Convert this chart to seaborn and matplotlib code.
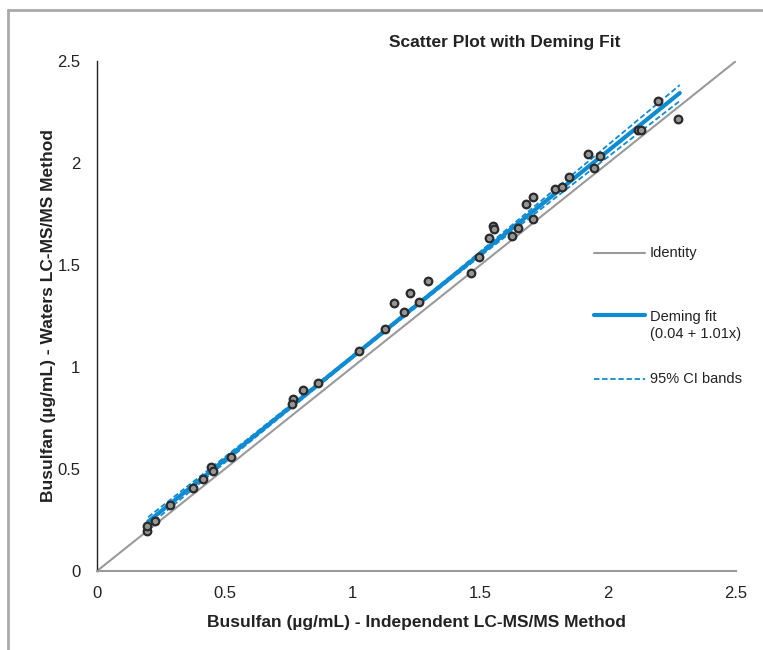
import numpy as np
import pandas as pd
import matplotlib
matplotlib.use("Agg")
import matplotlib.pyplot as plt
from matplotlib.lines import Line2D
import seaborn as sns

# ---- data ----
x_indep = [0.196, 0.196, 0.227, 0.286, 0.376, 0.415, 0.446, 0.454, 0.524,
           0.767, 0.763, 0.806, 0.865, 1.025, 1.127, 1.162, 1.201, 1.225,
           1.260, 1.295, 1.463, 1.495, 1.534, 1.549, 1.553, 1.624, 1.647,
           1.678, 1.706, 1.706, 1.792, 1.819, 1.847, 1.921, 1.944, 1.968,
           2.117, 2.128, 2.195, 2.273]
y_waters = [0.196, 0.221, 0.245, 0.324, 0.407, 0.451, 0.510, 0.490, 0.559,
            0.843, 0.819, 0.887, 0.922, 1.078, 1.186, 1.314, 1.270, 1.363,
            1.319, 1.422, 1.461, 1.539, 1.632, 1.691, 1.676, 1.642, 1.681,
            1.799, 1.833, 1.725, 1.873, 1.882, 1.931, 2.044, 1.975, 2.034,
            2.162, 2.162, 2.304, 2.216]

identity_x = [0.0, 2.5]
identity_y = [0.0, 2.5]

fit_x = [0.2, 2.28]
fit_y = [0.242, 2.343]

ci_x = [0.2, 0.6, 1.0, 1.4, 1.8, 2.28]
ci_upper = [0.264, 0.657, 1.056, 1.462, 1.880, 2.382]
ci_lower = [0.220, 0.635, 1.044, 1.446, 1.836, 2.304]

ticks = [0, 0.5, 1, 1.5, 2, 2.5]
tick_labels = ["0", "0.5", "1", "1.5", "2", "2.5"]

# ---- style ----
sns.set_style("white")
plt.rcParams['font.family'] = ['Liberation Sans Narrow', 'Liberation Sans', 'DejaVu Sans']

BLUE = "#0f8bd2"
GREY = "#9a9a9a"

fig = plt.figure(figsize=(7.63, 6.50), dpi=100)
ax = fig.add_axes([97/763, 1-571/650, (736-97)/763, (571-61)/650])

sns.lineplot(x=identity_x, y=identity_y, ax=ax, color=GREY, lw=1.5, zorder=1)
sns.lineplot(x=ci_x, y=ci_upper, ax=ax, color=BLUE, lw=1.3, ls=(0, (3, 1.5)), zorder=2)
sns.lineplot(x=ci_x, y=ci_lower, ax=ax, color=BLUE, lw=1.3, ls=(0, (3, 1.5)), zorder=2)
sns.lineplot(x=fit_x, y=fit_y, ax=ax, color=BLUE, lw=3, zorder=3)

df = pd.DataFrame({"x": x_indep, "y": y_waters})
sns.scatterplot(data=df, x="x", y="y", ax=ax, marker="o", s=30,
                color="#959595", edgecolor="#2a2a2a", linewidth=1.6, zorder=4)

ax.set_xlim(0, 2.5)
ax.set_ylim(0, 2.5)
ax.set_xticks(ticks)
ax.set_xticklabels(tick_labels)
ax.set_yticks(ticks)
ax.set_yticklabels(tick_labels)
ax.tick_params(axis='both', labelsize=12, colors="#222222", direction='out', length=4, width=0.8)
ax.tick_params(axis='x', direction='inout', length=6, pad=8, color=GREY)
ax.tick_params(axis='y', pad=8, color="#222222")
for s in ["top", "right"]:
    ax.spines[s].set_visible(False)
ax.spines["left"].set_color("#222222")
ax.spines["left"].set_linewidth(1.0)
ax.spines["bottom"].set_color(GREY)
ax.spines["bottom"].set_linewidth(1.5)

ax.set_xlabel("Busulfan (µg/mL) - Independent LC-MS/MS Method", fontsize=12.5,
              fontweight='bold', color="#222222", labelpad=10)
ax.set_ylabel("Busulfan (µg/mL) - Waters LC-MS/MS Method", fontsize=12.5,
              fontweight='bold', color="#222222", labelpad=1)

fig.text(505/763, 1-42/650, "Scatter Plot with Deming Fit", ha='center', va='center',
         fontsize=12.5, fontweight='bold', color="#222222")

# ---- legend (manual) ----
def fx(px):
    return px/763
def fy(py):
    return 1-py/650

leg_font = ['Liberation Sans', 'DejaVu Sans']
fig.add_artist(Line2D([fx(594), fx(645)], [fy(253), fy(253)], color=GREY, lw=1.5))
fig.text(fx(650), fy(253), "Identity", ha='left', va='center', fontsize=10.5,
         family=leg_font, color="#222222")
fig.add_artist(Line2D([fx(594), fx(645)], [fy(315), fy(315)], color=BLUE, lw=3))
fig.text(fx(650), fy(317), "Deming fit", ha='left', va='center', fontsize=10.5,
         family=leg_font, color="#222222")
fig.text(fx(650), fy(334), "(0.04 + 1.01x)", ha='left', va='center', fontsize=10.5,
         family=leg_font, color="#222222")
fig.add_artist(Line2D([fx(594), fx(645)], [fy(379), fy(379)], color=BLUE, lw=1.3,
                      ls=(0, (3, 1.5))))
fig.text(fx(650), fy(379), "95% CI bands", ha='left', va='center', fontsize=10.5,
         family=leg_font, color="#222222")

# ---- figure frame ----
fig.add_artist(Line2D([fx(8), fx(762)], [fy(10), fy(10)], color="#aaaaaa", lw=2))
fig.add_artist(Line2D([fx(8), fx(8)], [fy(10), fy(650)], color="#aaaaaa", lw=2))

fig.savefig("out.png", dpi=100)
